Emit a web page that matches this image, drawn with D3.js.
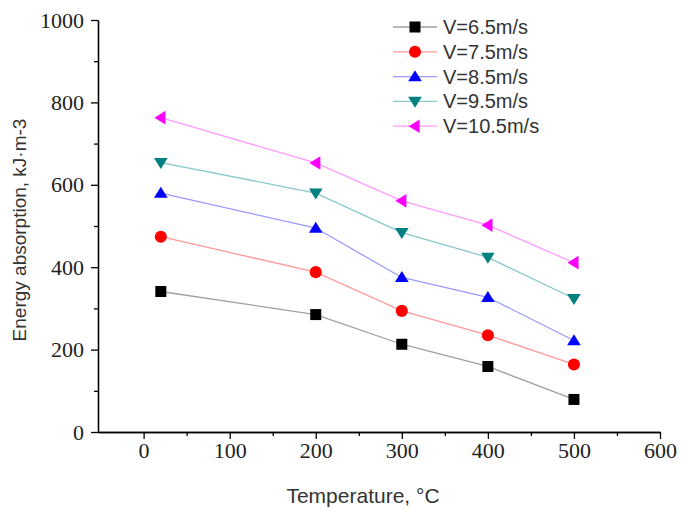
<!DOCTYPE html>
<html><head><meta charset="utf-8">
<script src="https://cdn.jsdelivr.net/npm/d3@7"></script>
<style>body{margin:0;background:#fff}
.tk text{font-family:"Liberation Serif","DejaVu Serif",serif !important;font-size:22px !important;}
</style></head>
<body><svg id="c" width="682" height="510"></svg>
<script>
const temperatures = [20, 200, 300, 400, 500];
const seriesNames = ["V=6.5m/s","V=7.5m/s","V=8.5m/s","V=9.5m/s","V=10.5m/s"];
const v65  = [341, 285, 213, 159, 79];
const v75  = [474, 388, 294, 235, 164];
const v85  = [580, 495, 375, 327, 222];
const v95  = [654, 580, 484, 424, 324];
const v105 = [763, 653, 561, 502, 411];
const xTicks = [0,100,200,300,400,500,600];
const yTicks = [0,200,400,600,800,1000];
const markerColors = ["#000000","#ff0000","#0000ff","#008080","#ff00ff"];
const lineColors = ["#a0a0a0","#ff9a9a","#9a9aff","#88c8c8","#ff9aff"];
const markerTypes = ["square","circle","triangleUp","triangleDown","triangleLeft"];
const allSeries = [v65, v75, v85, v95, v105];

const svg = d3.select("#c");
const x = d3.scaleLinear().domain([-53, 600]).range([98, 660]);
const y = d3.scaleLinear().domain([0, 1000]).range([432, 20]);

const fmt = d3.format("d");
const xAxis = d3.axisBottom(x).tickValues(xTicks).tickFormat(fmt).tickSize(7).tickSizeOuter(0).tickPadding(3);
const xMinor = d3.axisBottom(x).tickValues([50,150,250,350,450,550]).tickSize(4).tickSizeOuter(0).tickFormat("");
const yAxis = d3.axisLeft(y).tickValues(yTicks).tickFormat(fmt).tickSize(7).tickSizeOuter(0).tickPadding(7);
const yMinor = d3.axisLeft(y).tickValues([100,300,500,700,900]).tickSize(4).tickSizeOuter(0).tickFormat("");

function style(g){
  g.attr("class","tk").attr("font-family","Liberation Serif").attr("font-size",22);
  g.selectAll("path.domain").attr("stroke","#000").attr("stroke-width",1.3);
  g.selectAll("line").attr("stroke","#000").attr("stroke-width",1.3);
  g.selectAll("text").attr("font-family","Liberation Serif").attr("font-size",22).attr("fill","#222");
}
svg.append("g").attr("transform","translate(0,432)").call(xMinor).call(style);
svg.append("g").attr("transform","translate(0,432)").call(xAxis).call(style);
svg.append("g").attr("transform","translate(98,0)").call(yMinor).call(style);
svg.append("g").attr("transform","translate(98,0)").call(yAxis).call(style);

svg.append("text").attr("x",363).attr("y",503).attr("text-anchor","middle")
  .style("font-family","'Liberation Sans',Arial,sans-serif").style("font-size","21px").attr("fill","#333")
  .text("Temperature, °C");
svg.append("text").attr("transform","translate(26,230) rotate(-90)").attr("text-anchor","middle")
  .style("font-family","'Liberation Sans',Arial,sans-serif").style("font-size","19px").attr("fill","#333")
  .text("Energy absorption, kJ·m-3");

function symbolPath(type, s){
  switch(type){
    case "square": return `M${-s/2},${-s/2}h${s}v${s}h${-s}Z`;
    case "circle": return d3.symbol(d3.symbolCircle, Math.PI*(s*0.55)*(s*0.55))();
    case "triangleUp": return `M0,${-s*0.58}L${s*0.62},${s*0.42}L${-s*0.62},${s*0.42}Z`;
    case "triangleDown": return `M0,${s*0.58}L${s*0.62},${-s*0.42}L${-s*0.62},${-s*0.42}Z`;
    case "triangleLeft": return `M${-s*0.58},0L${s*0.42},${-s*0.62}L${s*0.42},${s*0.62}Z`;
  }
}

const line = d3.line().x((d,i)=>x(temperatures[i])).y(d=>y(d));
allSeries.forEach((vals, k) => {
  svg.append("path").attr("d", line(vals)).attr("fill","none")
    .attr("stroke", lineColors[k]).attr("stroke-width",1.3);
  svg.selectAll(null).data(vals).enter().append("path")
    .attr("transform",(d,i)=>`translate(${x(temperatures[i])},${y(d)})`)
    .attr("d", symbolPath(markerTypes[k], 11))
    .attr("fill", markerColors[k]);
});

const lg = svg.append("g");
seriesNames.forEach((name,k)=>{
  const yy = 27 + k*24.8;
  lg.append("line").attr("x1",393).attr("x2",437).attr("y1",yy).attr("y2",yy)
    .attr("stroke",lineColors[k]).attr("stroke-width",1.3);
  lg.append("path").attr("transform",`translate(415,${yy})`).attr("d",symbolPath(markerTypes[k],11))
    .attr("fill",markerColors[k]);
  lg.append("text").attr("x",443).attr("y",yy+7).style("font-family","'Liberation Sans',Arial,sans-serif")
    .style("font-size","20px").attr("fill","#333").text(name);
});
</script></body></html>
